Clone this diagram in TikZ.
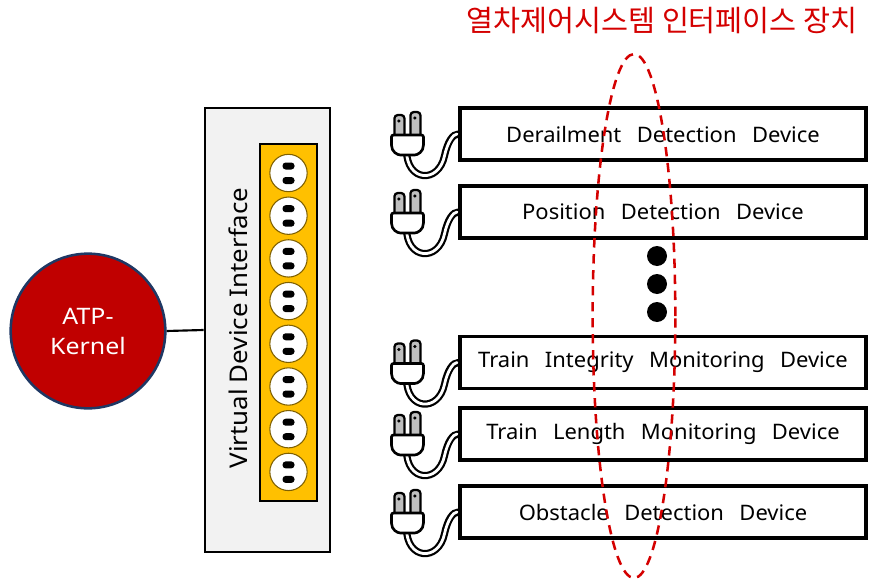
\documentclass[tikz,border=0pt]{standalone}
\usepackage{fontspec}
\usetikzlibrary{calc}
\setmainfont{Noto Sans}
\newfontfamily\krfont{Noto Sans CJK KR}
\newfontfamily\widefont[FakeStretch=1.1]{Noto Sans}
\newfontfamily\labelfont[FakeStretch=1.06]{Noto Sans}
\newfontfamily\devfont[FakeStretch=1.03, WordSpace=2.7]{Noto Sans}
\newcommand\gap{\hspace{4.5pt}}
\definecolor{kernelred}{HTML}{C00000}
\definecolor{kernelrim}{HTML}{1F3864}
\definecolor{panelgray}{HTML}{F2F2F2}
\definecolor{stripyellow}{HTML}{FFC000}
\definecolor{socketrim}{HTML}{7F6000}
\definecolor{titlered}{HTML}{D40000}
\definecolor{pronggray}{HTML}{BFBFBF}

\tikzset{
  devbox/.style={draw=black, line width=2.3pt, fill=white,
    minimum width=304.5pt, minimum height=39pt, inner sep=0pt,
    font=\devfont\fontsize{16}{18}\selectfont},
  socket/.style={circle, draw=socketrim, line width=0.8pt, fill=white,
    minimum size=28pt, inner sep=0pt},
  bigdot/.style={circle, fill=black, minimum size=15pt, inner sep=0pt},
  plug/.pic={
    % cable: black outline with a white core
    \draw[line width=5.4pt, line cap=round]
      (-52,16) .. controls (-52,48) and (-20,50) .. (-14,22)
      .. controls (-11,8) and (-6,0) .. (0,0);
    \draw[line width=2.1pt, white, line cap=round]
      (-52,16) .. controls (-52,48) and (-20,50) .. (-14,22)
      .. controls (-11,8) and (-5,0) .. (-1.5,0);
    % prongs
    \filldraw[fill=pronggray, line width=1.7pt, rounded corners=2.5pt]
      (-64,4) -- (-64,-19) -- (-54,-19) -- (-54,4) -- cycle;
    \filldraw[fill=pronggray, line width=1.7pt, rounded corners=2.5pt]
      (-48,4) -- (-48,-22) -- (-38,-22) -- (-38,4) -- cycle;
    \fill (-59.5,-13) circle[radius=1.3pt];
    \fill (-43.5,-16) circle[radius=1.3pt];
    % plug body
    \filldraw[fill=white, line width=2pt, rounded corners=1.5pt]
      (-67,1) -- (-35,1) -- (-35,9) .. controls (-35,18) and (-41,21) .. (-46,21)
      -- (-56,21) .. controls (-61,21) and (-67,18) .. (-67,9) -- cycle;
  }
}

\begin{document}
\begin{tikzpicture}[x=0.75pt, y=-0.75pt]
\useasboundingbox (0,0) rectangle (869,582);

% kernel
\node[circle, fill=kernelred, draw=kernelrim, line width=1.9pt,
      minimum size=116pt, inner sep=0pt, text=white, align=center,
      font=\widefont\fontsize{17}{22.5}\selectfont] (atp) at (88,331) {ATP-\\Kernel};

% virtual device interface panel
\node[draw=black, line width=2.2pt, fill=panelgray, minimum width=93.75pt,
      minimum height=333pt, inner sep=0pt] (vdi) at (267.5,330) {};
\node[rotate=90, font=\labelfont\fontsize{18.3}{20}\selectfont] (vdilabel) at (238,328)
      {Virtual\gap Device\gap Interface};
\node[draw=black, line width=2pt, fill=stripyellow, minimum width=42.75pt,
      minimum height=267.75pt, inner sep=0pt] (strip) at (288.5,322.5) {};

\draw[line width=1.6pt] (atp.east) -- (vdi.west);

% socket outlets
\foreach \i in {0,...,7}{
  \node[socket] (s\i) at (288.5,{173+42.7*\i}) {};
  \fill[black, rounded corners=2.4pt]
    ($(s\i.center)+(-6,-10.5)$) rectangle ($(s\i.center)+(6,-3.5)$);
  \fill[black, rounded corners=2.4pt]
    ($(s\i.center)+(-6,4)$) rectangle ($(s\i.center)+(6,11)$);
}

% devices
\node[devbox] (d1) at (663,134) {Derailment Detection Device};
\node[devbox] (d2) at (663,212) {Position Detection Device};
\node[devbox] (d3) at (663,362.5) {Train Integrity Monitoring Device};
\node[devbox] (d4) at (663,434) {Train Length Monitoring Device};
\node[devbox] (d5) at (663,512) {Obstacle Detection Device};

\foreach \d in {d1,d2,d3,d4,d5}{
  \pic at (\d.west) {plug};
}

% continuation dots
\node[bigdot] (dot1) at (657,256) {};
\node[bigdot] (dot2) at (657,284) {};
\node[bigdot] (dot3) at (657,312) {};

% interface boundary
\draw[titlered, line width=1.9pt, dash pattern=on 7pt off 5pt]
  (634,316) ellipse [x radius=31pt, y radius=196.5pt];

\node[text=titlered, font=\krfont\fontsize{22}{24}\selectfont] (title)
  at (662,21) {열차제어시스템 인터페이스 장치};
\end{tikzpicture}
\end{document}
